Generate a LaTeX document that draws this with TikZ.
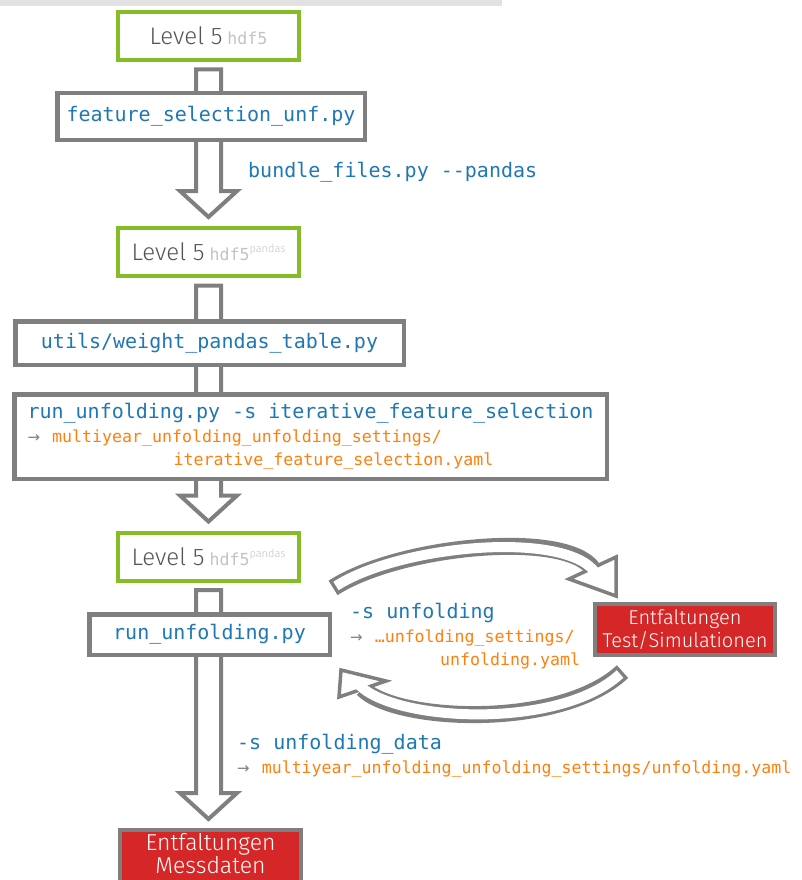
\documentclass[tikz,border=0pt]{standalone}
\usepackage{fontspec}
\usepackage{xcolor}
\usepackage{tikz}
\usetikzlibrary{calc}
\newfontfamily\thinsans{Fira Sans Light}
\newfontfamily\codefont{DejaVu Sans Mono}
\newfontfamily\symfont{DejaVu Sans}
\definecolor{lvgreen}{RGB}{134, 188, 37}
\definecolor{boxgray}{RGB}{127, 127, 127}
\definecolor{arrowgray}{RGB}{128, 128, 128}
\definecolor{codeblue}{RGB}{31, 119, 180}
\definecolor{yamlorange}{RGB}{255, 127, 14}
\definecolor{resred}{RGB}{214, 39, 40}
\definecolor{lvtext}{RGB}{85, 85, 85}
\definecolor{hdfgray}{RGB}{195, 195, 195}
\definecolor{bargray}{RGB}{226, 226, 226}
\tikzstyle{levelbox} = [
    rectangle,
    draw=lvgreen,
    line width=4pt,
    fill=white,
    minimum width=181pt,
    minimum height=48pt,
    inner sep=0pt
]
\tikzstyle{scriptbox} = [
    rectangle,
    draw=boxgray,
    line width=4.5pt,
    fill=white,
    inner sep=0pt,
    text=codeblue,
    font=\codefont\fontsize{20}{23.5}\selectfont
]
\tikzstyle{resultbox} = [
    rectangle,
    draw=boxgray,
    line width=4pt,
    fill=resred,
    inner sep=0pt,
    text=white,
    align=center
]
\tikzstyle{cmd} = [
    inner sep=0pt,
    text=codeblue,
    font=\codefont\fontsize{20}{23.5}\selectfont
]
\tikzstyle{hollowarrow} = [
    draw=boxgray,
    line width=4pt,
    fill=white,
    line join=miter
]
\tikzstyle{bandout} = [draw=boxgray, line width=17pt]
\tikzstyle{bandin} = [draw=white, line width=10pt]
\tikzstyle{bandhead} = [
    draw=boxgray,
    line width=3.5pt,
    fill=white,
    line join=miter
]
\newcommand{\yamlfile}[1]{{\fontsize{16.6}{23.5}\selectfont\color{yamlorange}#1}}
\newcommand{\yamlref}[1]{{\symfont\fontsize{15}{23.5}\selectfont\color{arrowgray}→\hspace{12pt}}\yamlfile{#1}}
\newcommand{\levelfive}[1]{{\thinsans\fontsize{24}{28}\selectfont\color{lvtext}Level 5}\hspace{5pt}{\codefont\fontsize{16.6}{20}\selectfont\color{hdfgray}hdf5}#1}
\newcommand{\pandastag}{\raisebox{8pt}{\thinsans\fontsize{11}{13}\selectfont\color{hdfgray}pandas}}

\begin{document}
\begin{tikzpicture}[x=1pt, y=-1pt]
        \useasboundingbox (0,0) rectangle (802,880);
        \fill[bargray] (0,0) rectangle (502,6);

        % Data levels
        \node[levelbox] (level1) at (208.5, 36) {\levelfive{}};
        \node[levelbox] (level2) at (208.5, 252) {\levelfive{\pandastag}};
        \node[levelbox] (level3) at (208.5, 556.5) {\levelfive{\pandastag}};

        % Results
        \node[resultbox, minimum width=181pt, minimum height=60pt, font=\thinsans\fontsize{23}{23.5}\selectfont] (datares) at (210.5, 860) {Entfaltungen\\Messdaten\rule[-13pt]{0pt}{13pt}};
        \node[resultbox, minimum width=180pt, minimum height=51pt, font=\thinsans\fontsize{20}{23}\selectfont] (simres) at (685, 629.5) {Entfaltungen\\Test/Simulationen};

        % Flow arrows
        \foreach \a/\b in {level1/level2, level2/level3, level3/datares} {
            \draw[hollowarrow] ($(\a.south)+(-12.5,7.5)$) -- ($(\a.south |- \b.north)+(-12.5,-35)$)
                -- ($(\a.south |- \b.north)+(-28.5,-35)$) -- ($(\a.south |- \b.north)+(0,-9)$)
                -- ($(\a.south |- \b.north)+(28.5,-35)$) -- ($(\a.south |- \b.north)+(12.5,-35)$)
                -- ($(\a.south)+(12.5,7.5)$) -- cycle;
        }

        % Scripts
        \node[scriptbox, minimum width=307.5pt, minimum height=46.5pt] (featsel) at (211, 116.5) {feature\_selection\_unf.py};
        \node[scriptbox, minimum width=388.5pt, minimum height=43.5pt] (weight) at (209.5, 343) {utils/weight\_pandas\_table.py};
        \node[scriptbox, minimum width=592.5pt, minimum height=84.5pt, align=left] (iterfs) at (310.5, 436.5) {run\_unfolding.py -s iterative\_feature\_selection\\
            \yamlref{multiyear\_unfolding\_unfolding\_settings/}\\
            \hspace*{146pt}\yamlfile{iterative\_feature\_selection.yaml}};
        \node[scriptbox, minimum width=240.5pt, minimum height=40.5pt] (unfold) at (209.5, 634.5) {run\_unfolding.py};

        % Options
        \node[cmd, anchor=west] (bundle) at (248, 172) {bundle\_files.py -{}-pandas};
        \node[cmd, anchor=north west, align=left] (unfoldcmd) at (350, 603) {-s unfolding\\
            \yamlref{…unfolding\_settings/}\\
            \hspace*{90pt}\yamlfile{unfolding.yaml}};
        \node[cmd, anchor=north west, align=left] (datacmd) at (237, 734) {-s unfolding\_data\\
            \yamlref{multiyear\_unfolding\_unfolding\_settings/unfolding.yaml}};

        % Loop with the test results
        \coordinate (loopA) at (336, 586);
        \coordinate (loopB) at (592.5, 568.5);
        \coordinate (loopC) at (620, 674);
        \coordinate (loopD) at (362.5, 688.5);
        \draw[bandout, shorten <=-3.5pt] (loopA) .. controls (400, 545) and (565, 530) .. (loopB);
        \draw[bandhead] (616, 557) -- (616, 596) -- (569, 579) -- cycle;
        \draw[bandin, shorten >=-5pt] (loopA) .. controls (400, 545) and (565, 530) .. (loopB);
        \draw[bandout, shorten <=-3.5pt] (loopC) .. controls (560, 730) and (395, 722) .. (loopD);
        \draw[bandhead] (386, 681) -- (341, 670) -- (339, 697) -- cycle;
        \draw[bandin, shorten >=-5pt] (loopC) .. controls (560, 730) and (395, 722) .. (loopD);
    \end{tikzpicture}
\end{document}
